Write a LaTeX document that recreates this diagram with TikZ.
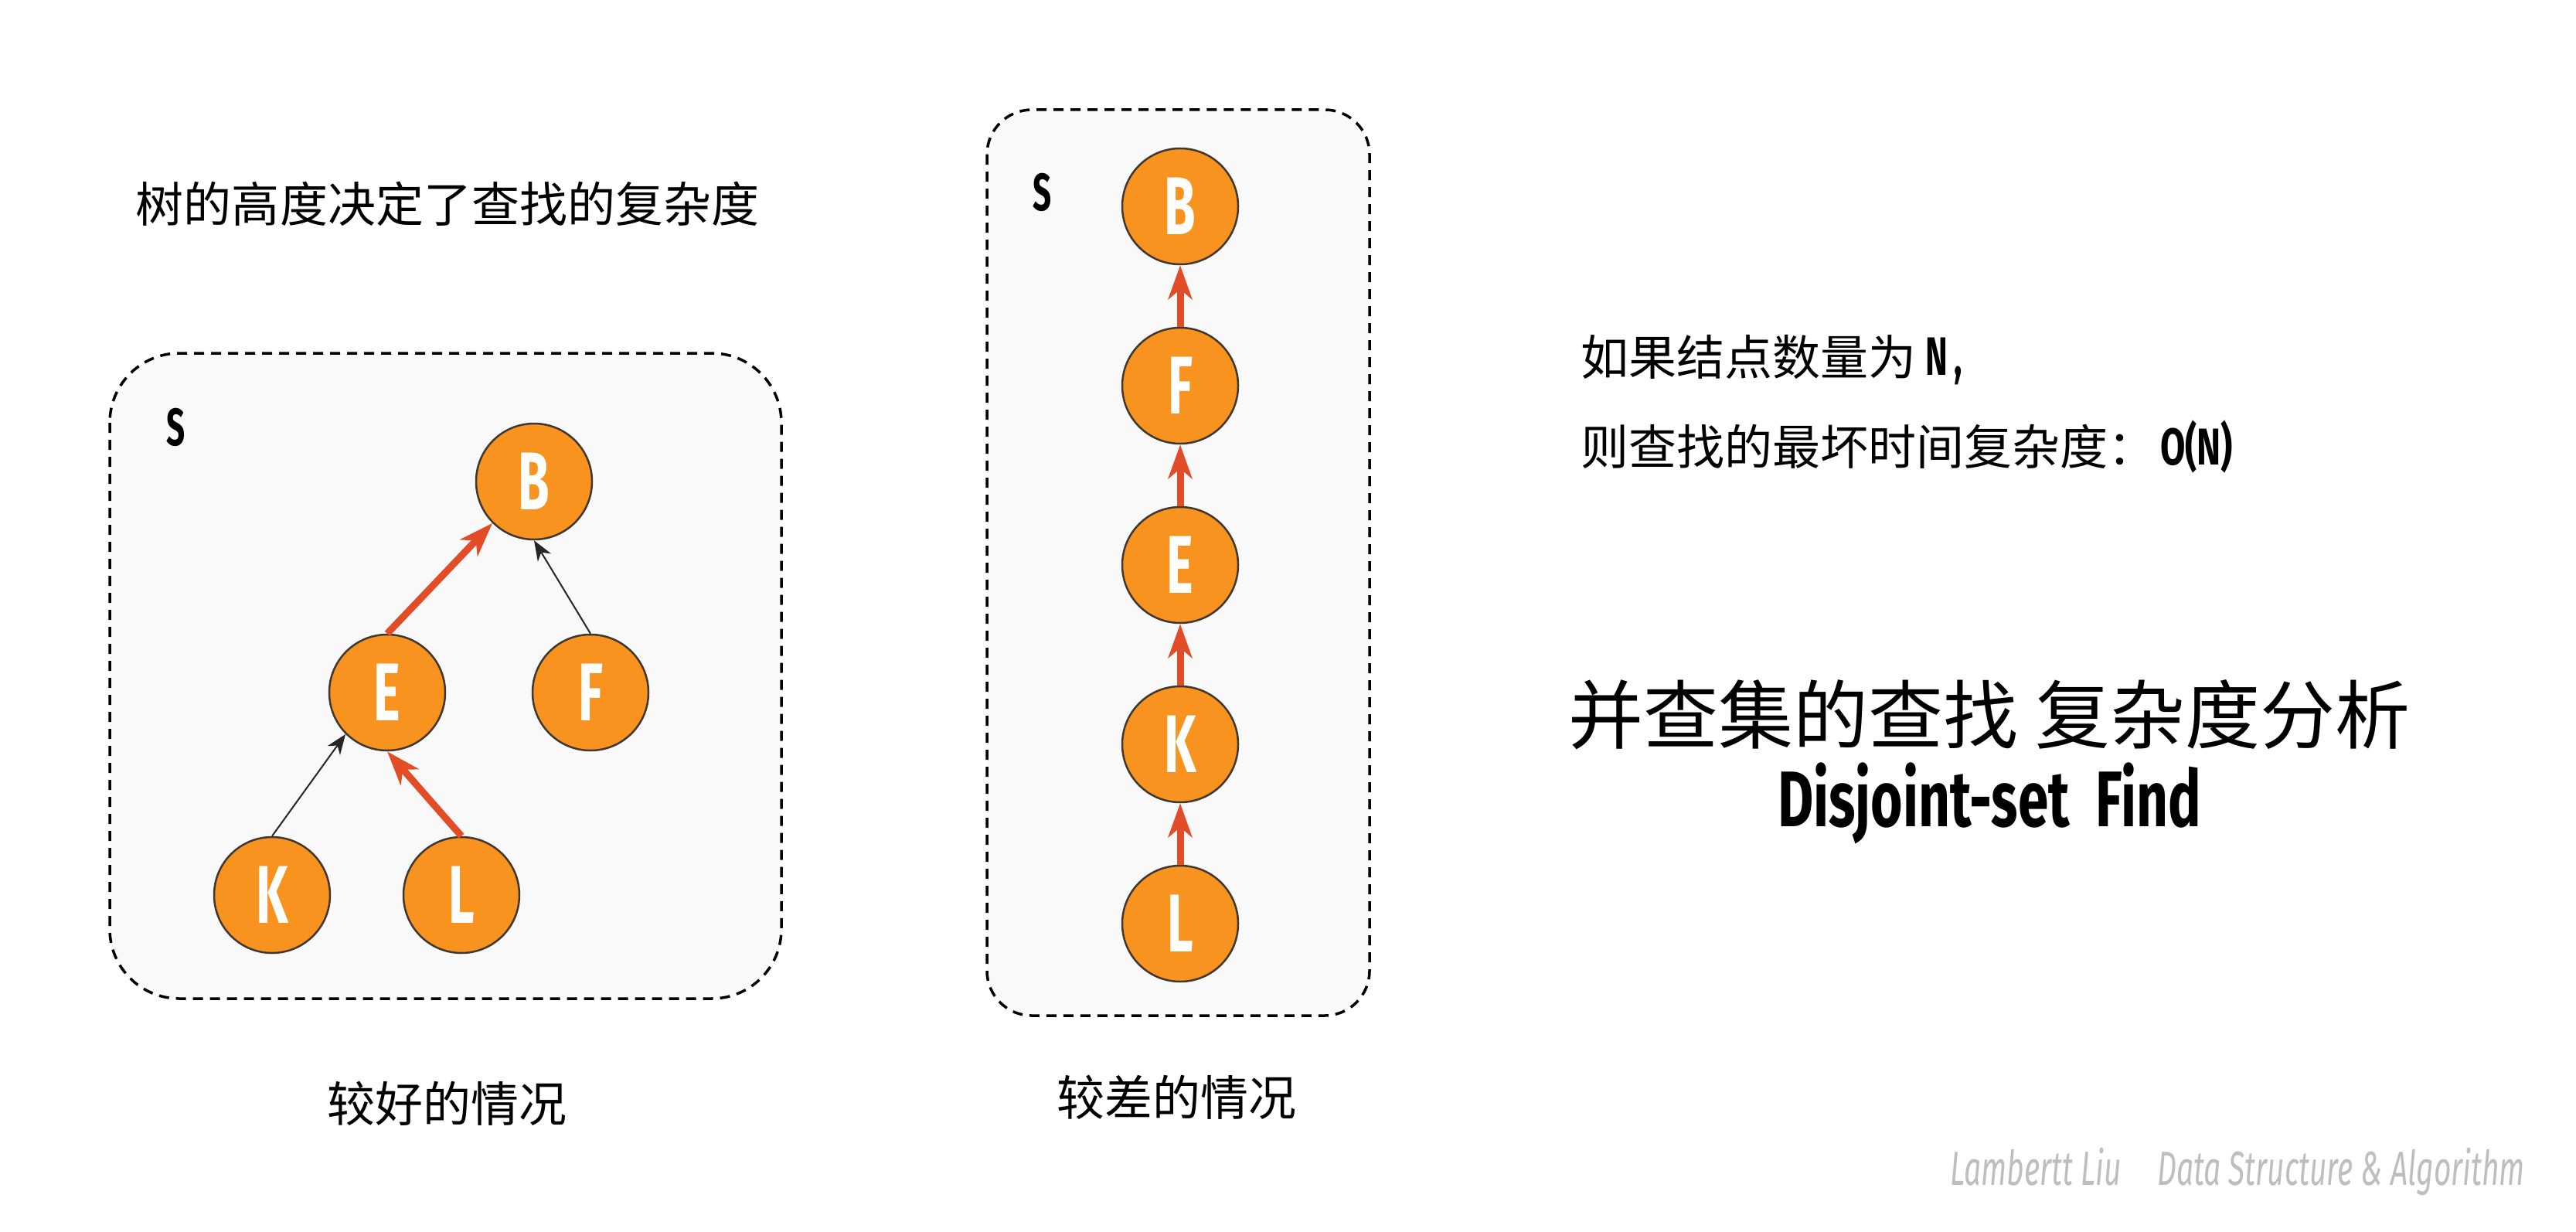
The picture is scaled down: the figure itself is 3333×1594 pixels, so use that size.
\documentclass[tikz,border=0pt]{standalone}
\usepackage{fontspec}
\usepackage{graphicx}
\usetikzlibrary{arrows.meta}
\newfontfamily\cjk{Noto Sans CJK SC}
\newfontfamily\fira{Fira Sans}
\definecolor{nodeorange}{RGB}{247,147,30}
\definecolor{nodeborder}{RGB}{64,56,48}
\definecolor{linkred}{RGB}{226,76,38}
\definecolor{boxfill}{RGB}{249,249,249}
\definecolor{wmgray}{RGB}{190,190,190}
\newcommand{\condbf}[2]{\scalebox{0.62}[1]{\fontsize{#1}{#1}\fira\bfseries #2}}
\tikzset{
  treenode/.style={circle, draw=nodeborder, line width=2.5bp, fill=nodeorange,
    minimum size=150bp, inner sep=0pt, text=white},
  setbox/.style={draw=black, line width=3.5bp, dash pattern=on 13bp off 9bp, fill=boxfill},
  redlink/.style={draw=linkred, line width=9bp, -{Stealth[length=44bp,width=31bp,inset=13bp]}},
  blacklink/.style={draw=black!85, line width=2bp, -{Stealth[length=26bp,width=20bp,inset=8bp]}},
  plain/.style={inner sep=0pt, outer sep=0pt},
  cjktext/.style={plain, font=\cjk\fontsize{62bp}{62bp}\selectfont},
}
\begin{document}
\begin{tikzpicture}[x=1bp, y=-1bp]
\useasboundingbox (0,0) rectangle (3333,1594);
\fill[white] (0,0) rectangle (3333,1594);

% boxes
\draw[setbox, rounded corners=90bp] (142,457) rectangle (1011,1292);
\draw[setbox, rounded corners=58bp] (1277,142) rectangle (1772,1314);

% set labels
\node[plain] (sleft) at (228,553) {\condbf{68bp}{S}};
\node[plain] (sright) at (1349,249) {\condbf{68bp}{S}};

% good tree
\node[treenode] (gB) at (691,623) {\condbf{106bp}{B}};
\node[treenode] (gE) at (501,896) {\condbf{106bp}{E}};
\node[treenode] (gF) at (764,896) {\condbf{106bp}{F}};
\node[treenode] (gK) at (352,1158) {\condbf{106bp}{K}};
\node[treenode] (gL) at (597,1158) {\condbf{106bp}{L}};
\draw[redlink] (gE.north) -- (gB.south west);
\draw[blacklink] (gF.north) -- (gB.south);
\draw[blacklink] (gK.north) -- (gE.south west);
\draw[redlink] (gL.north) -- (gE.south);

% bad chain
\node[treenode] (bB) at (1527,267) {\condbf{106bp}{B}};
\node[treenode] (bF) at (1527,499) {\condbf{106bp}{F}};
\node[treenode] (bE) at (1527,731) {\condbf{106bp}{E}};
\node[treenode] (bK) at (1527,963) {\condbf{106bp}{K}};
\node[treenode] (bL) at (1527,1195) {\condbf{106bp}{L}};
\draw[redlink] (bF.north) -- (bB.south);
\draw[redlink] (bE.north) -- (bF.south);
\draw[redlink] (bK.north) -- (bE.south);
\draw[redlink] (bL.north) -- (bK.south);

% texts
\node[cjktext] (heightnote) at (579,264) {树的高度决定了查找的复杂度};
\node[cjktext] (goodlabel) at (578,1428) {较好的情况};
\node[cjktext] (badlabel) at (1522,1420) {较差的情况};
\node[cjktext, anchor=west] (countline) at (2045,466) {如果结点数量为\hspace{0.2em}\condbf{70bp}{N\hspace{0.2em},}};
\node[cjktext, anchor=west] (worstline) at (2045,578) {则查找的最坏时间复杂度：\hspace{0.1em}\resizebox{94bp}{\height}{\fontsize{67bp}{67bp}\fira\bfseries O(N)}};
\node[plain, font=\cjk\fontsize{97bp}{97bp}\selectfont] (title) at (2574,925) {并查集的查找 复杂度分析};
\node[plain, anchor=base] (titleen) at (2574,1069) {\resizebox{548bp}{\height}{\fontsize{102bp}{102bp}\fira\bfseries Disjoint-set\ \ Find}};
\node[plain, anchor=base west, text=wmgray] (watermark) at (2523,1533) {\resizebox{744bp}{\height}{\fontsize{62bp}{62bp}\fira\itshape Lambertt Liu\hspace{1.2em}Data Structure \& Algorithm}};
\end{tikzpicture}
\end{document}
